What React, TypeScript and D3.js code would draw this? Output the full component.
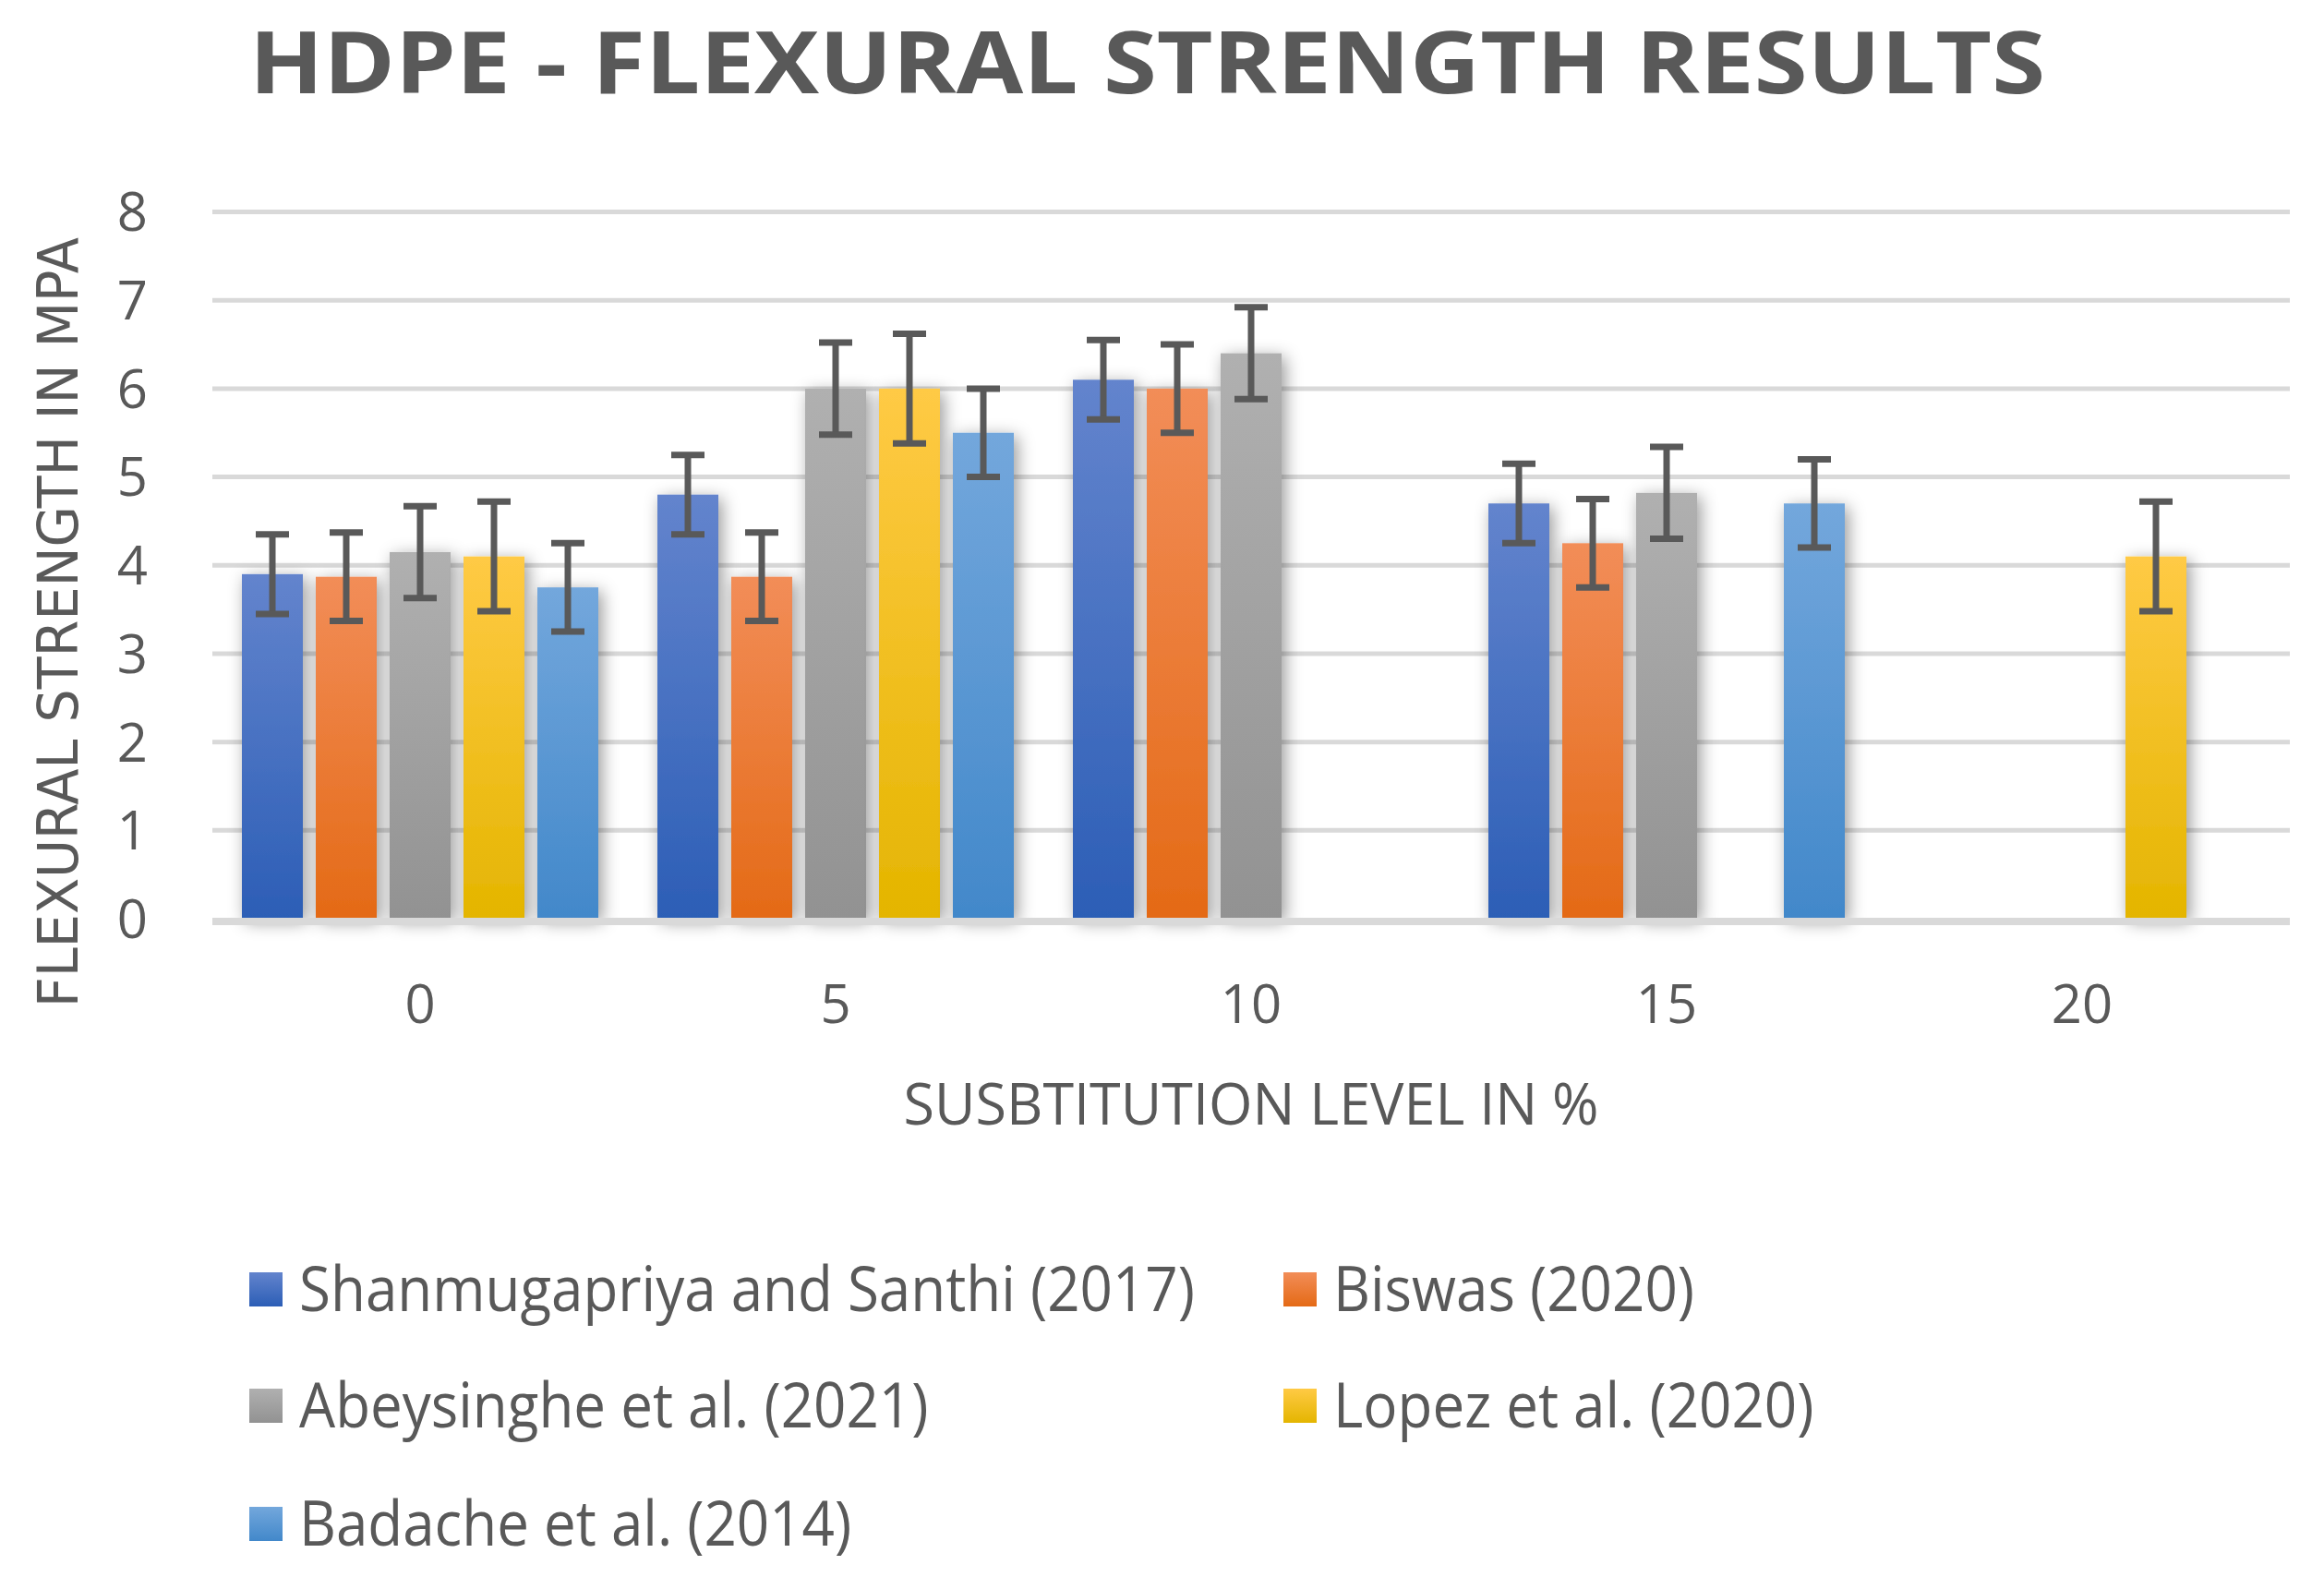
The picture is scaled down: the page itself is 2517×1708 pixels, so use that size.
import { useEffect, useRef } from 'react';
import * as d3 from 'd3';

const W = 2517;
const H = 1708;

const chartTitle = 'HDPE - FLEXURAL STRENGTH RESULTS';
const yTitle = 'FLEXURAL STRENGTH IN MPA';
const xTitle = 'SUSBTITUTION LEVEL IN %';

const categories = ['0', '5', '10', '15', '20'];
const yTicks = [0, 1, 2, 3, 4, 5, 6, 7, 8];

const seriesNames = [
  'Shanmugapriya and Santhi (2017)',
  'Biswas (2020)',
  'Abeysinghe et al. (2021)',
  'Lopez et al. (2020)',
  'Badache et al. (2014)',
];

// null = no bar at that level
const shanmugapriya = [3.9, 4.8, 6.1, 4.7, null];
const biswas = [3.87, 3.87, 6.0, 4.25, null];
const abeysinghe = [4.15, 6.0, 6.4, 4.82, null];
const lopez = [4.1, 6.0, null, null, 4.1];
const badache = [3.75, 5.5, null, 4.7, null];
const seriesValues = [shanmugapriya, biswas, abeysinghe, lopez, badache];

// error bar half-widths per series
const errorMargins = [0.45, 0.5, 0.52, 0.62, 0.5];

// gradient top / bottom colours
const seriesColors = [
  ['#6384cd', '#2c5eb6'],
  ['#f28d58', '#e46a16'],
  ['#b0b0b0', '#929292'],
  ['#ffca45', '#e4b500'],
  ['#73a7dc', '#4288ca'],
];

export default function App() {
  const svgRef = useRef<SVGSVGElement>(null);

  useEffect(() => {
    if (!svgRef.current) return;
    document.body.style.margin = '0';

    const svg = d3.select(svgRef.current);
    svg.selectAll('*').remove();

    const textColor = '#595959';
    const left = 230;
    const right = 2480;
    const top = 229.5;
    const bottom = 995;

    const x0 = d3.scaleBand().domain(categories).range([left, right]);
    const x1 = d3
      .scaleBand()
      .domain(seriesNames)
      .range([0, x0.bandwidth()])
      .paddingInner(0.175)
      .paddingOuter(0.4);
    const y = d3.scaleLinear().domain([0, 8]).range([bottom, top]);

    const defs = svg.append('defs');
    seriesColors.forEach((c, i) => {
      const grad = defs
        .append('linearGradient')
        .attr('id', `grad${i}`)
        .attr('x1', 0)
        .attr('y1', 0)
        .attr('x2', 0)
        .attr('y2', 1);
      grad.append('stop').attr('offset', '0%').attr('stop-color', c[0]);
      grad.append('stop').attr('offset', '100%').attr('stop-color', c[1]);
    });

    const shadow = defs
      .append('filter')
      .attr('id', 'shadow')
      .attr('x', '-60%')
      .attr('y', '-20%')
      .attr('width', '220%')
      .attr('height', '140%');
    shadow
      .append('feDropShadow')
      .attr('dx', 4)
      .attr('dy', 4)
      .attr('stdDeviation', 9)
      .attr('flood-color', '#000')
      .attr('flood-opacity', 0.4);

    svg.append('rect').attr('width', W).attr('height', H).attr('fill', '#fff');

    // Title
    svg
      .append('text')
      .attr('x', 270)
      .attr('y', 101)
      .attr('font-family', '"Open Sans", "Noto Sans", sans-serif')
      .attr('font-weight', 700)
      .attr('font-size', 94)
      .attr('fill', textColor)
      .attr('textLength', 1945)
      .attr('lengthAdjust', 'spacingAndGlyphs')
      .text(chartTitle);

    // Gridlines
    svg
      .append('g')
      .selectAll('line')
      .data(yTicks.filter((t) => t > 0))
      .enter()
      .append('line')
      .attr('x1', left)
      .attr('x2', right)
      .attr('y1', (d) => y(d))
      .attr('y2', (d) => y(d))
      .attr('stroke', '#d9d9d9')
      .attr('stroke-width', 5);

    // Y tick labels
    svg
      .append('g')
      .selectAll('text')
      .data(yTicks)
      .enter()
      .append('text')
      .attr('x', 160)
      .attr('y', (d) => y(d))
      .attr('dy', '0.36em')
      .attr('text-anchor', 'end')
      .attr('font-family', '"Open Sans", "Noto Sans", sans-serif')
      .attr('font-size', 58)
      .attr('fill', textColor)
      .text((d) => d);

    // Bars
    const bars: { cat: string; s: number; v: number }[] = [];
    seriesValues.forEach((vals, s) => {
      vals.forEach((v, c) => {
        if (v !== null) bars.push({ cat: categories[c], s, v });
      });
    });

    svg
      .append('g')
      .selectAll('rect')
      .data(bars)
      .enter()
      .append('rect')
      .attr('x', (d) => (x0(d.cat) || 0) + (x1(seriesNames[d.s]) || 0))
      .attr('y', (d) => y(d.v))
      .attr('width', x1.bandwidth())
      .attr('height', (d) => y(0) - y(d.v))
      .attr('fill', (d) => `url(#grad${d.s})`)
      .attr('filter', 'url(#shadow)');

    // Axis line
    svg
      .append('line')
      .attr('x1', left)
      .attr('x2', right)
      .attr('y1', y(0) + 3)
      .attr('y2', y(0) + 3)
      .attr('stroke', '#d9d9d9')
      .attr('stroke-width', 8);

    // Error bars
    const eg = svg.append('g').attr('stroke', '#595959').attr('stroke-width', 7);
    bars.forEach((d) => {
      const cx = (x0(d.cat) || 0) + (x1(seriesNames[d.s]) || 0) + x1.bandwidth() / 2;
      const e = errorMargins[d.s];
      const yt = y(d.v + e);
      const yb = y(d.v - e);
      eg.append('line').attr('x1', cx).attr('x2', cx).attr('y1', yt).attr('y2', yb);
      eg.append('line').attr('x1', cx - 18).attr('x2', cx + 18).attr('y1', yt).attr('y2', yt);
      eg.append('line').attr('x1', cx - 18).attr('x2', cx + 18).attr('y1', yb).attr('y2', yb);
    });

    // X tick labels
    svg
      .append('g')
      .selectAll('text')
      .data(categories)
      .enter()
      .append('text')
      .attr('x', (d) => (x0(d) || 0) + x0.bandwidth() / 2)
      .attr('y', 1108)
      .attr('text-anchor', 'middle')
      .attr('font-family', '"Open Sans", "Noto Sans", sans-serif')
      .attr('font-size', 58)
      .attr('fill', textColor)
      .text((d) => d);

    // X title
    svg
      .append('text')
      .attr('x', (left + right) / 2)
      .attr('y', 1218)
      .attr('text-anchor', 'middle')
      .attr('font-family', '"Open Sans", "Noto Sans", sans-serif')
      .attr('font-size', 62)
      .attr('fill', textColor)
      .attr('textLength', 753)
      .attr('lengthAdjust', 'spacingAndGlyphs')
      .text(xTitle);

    // Y title
    svg
      .append('text')
      .attr('transform', `translate(84,674) rotate(-90)`)
      .attr('text-anchor', 'middle')
      .attr('font-family', '"DejaVu Sans", Verdana, sans-serif')
      .attr('font-size', 60)
      .attr('fill', textColor)
      .attr('textLength', 834)
      .attr('lengthAdjust', 'spacingAndGlyphs')
      .text(yTitle);

    // Legend
    const legendCols = [270, 1390];
    const legendRows = [1396, 1522, 1650];
    const legend = svg
      .append('g')
      .selectAll('g')
      .data(seriesNames)
      .enter()
      .append('g')
      .attr(
        'transform',
        (_, i) => `translate(${legendCols[i % 2]},${legendRows[Math.floor(i / 2)]})`
      );
    legend
      .append('rect')
      .attr('x', 0)
      .attr('y', -18)
      .attr('width', 36)
      .attr('height', 37)
      .attr('fill', (_, i) => `url(#grad${i})`);
    legend
      .append('text')
      .attr('x', 54)
      .attr('y', 0)
      .attr('dy', '0.36em')
      .attr('font-family', '"Open Sans", "Noto Sans", sans-serif')
      .attr('font-size', 68)
      .attr('fill', textColor)
      .text((d) => d)
      .each(function () {
        const t = this as SVGTextElement;
        const len = t.getComputedTextLength();
        d3.select(t).attr('textLength', len * 0.91).attr('lengthAdjust', 'spacingAndGlyphs');
      });
  }, []);

  return <svg ref={svgRef} width={W} height={H} style={{ display: 'block' }} />;
}
